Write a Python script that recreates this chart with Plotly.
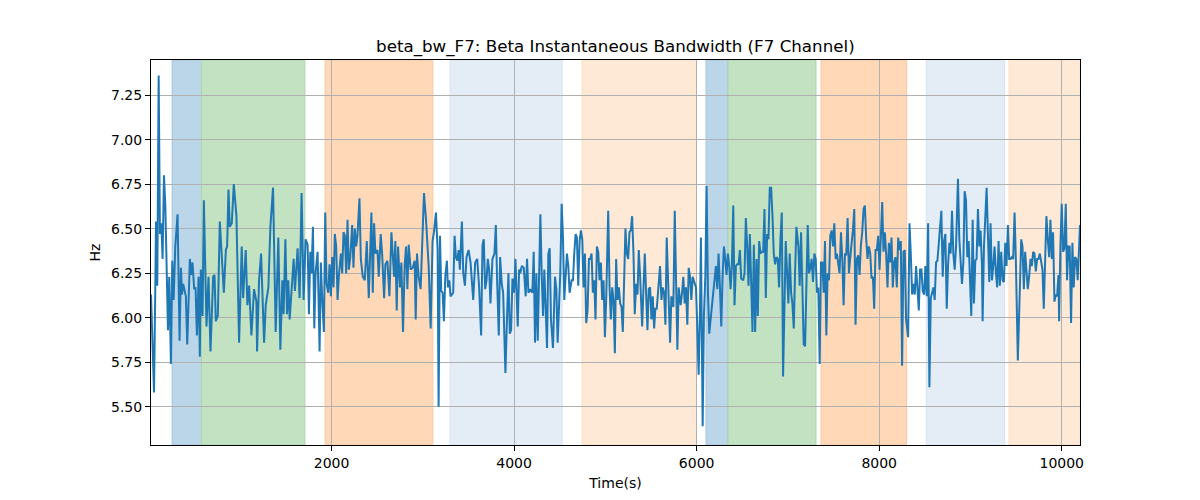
import plotly.graph_objects as go

# ---- data: instantaneous beta bandwidth, F7 channel ----
t1 = [22, 55, 69, 77, 91, 106, 120, 135, 149, 164,
      179, 193, 208, 222, 240, 255, 270, 288, 313, 335,
      350, 361, 375, 404, 419, 448, 463, 477, 495, 510,
      525, 543, 557, 568, 587, 601, 616, 630, 652, 674,
      703, 718, 732, 754, 776, 798, 820, 842, 856, 871,
      885, 907, 929, 958, 987, 1016, 1031, 1060, 1078, 1097,
      1122, 1151, 1177, 1184, 1206, 1228, 1242, 1261, 1279, 1308,
      1330, 1359, 1388, 1417, 1439, 1461, 1475, 1494, 1512, 1526,
      1541, 1563, 1585, 1599, 1614, 1628, 1650, 1672, 1694, 1716,
      1738, 1752]
v1 = [6.13, 5.58, 6.17, 6.54, 6.18, 7.36, 6.47, 6.53, 6.33, 6.80,
      6.63, 6.33, 5.93, 6.23, 5.74, 6.32, 6.10, 6.40, 6.58, 5.87,
      6.28, 6.13, 6.19, 6.12, 5.85, 6.33, 6.24, 6.31, 6.16, 6.17,
      5.90, 6.23, 5.78, 6.27, 6.01, 6.66, 6.25, 5.95, 6.23, 5.81,
      6.23, 6.24, 5.98, 6.01, 6.54, 6.36, 6.14, 6.38, 6.40, 6.72,
      6.51, 6.53, 6.75, 6.57, 5.86, 6.40, 6.11, 6.38, 6.07, 6.18,
      5.90, 6.16, 6.09, 5.81, 6.21, 6.36, 6.16, 5.86, 6.07, 6.17,
      6.51, 6.73, 5.92, 6.45, 5.82, 6.21, 6.02, 6.44, 6.02, 6.21,
      5.99, 6.19, 6.33, 6.15, 6.25, 6.39, 6.11, 6.70, 6.10, 6.44,
      6.41, 6.02]

t2 = [1767, 1781, 1796, 1811, 1825, 1847, 1869, 1883, 1898, 1916,
      1931, 1945, 1964, 1978, 1993, 2007, 2022, 2036, 2051, 2066,
      2080, 2102, 2117, 2131, 2146, 2160, 2175, 2189, 2204, 2226,
      2240, 2255, 2270, 2284, 2306, 2321, 2342, 2364, 2386, 2408,
      2437, 2452, 2466, 2481, 2503, 2517, 2539, 2554, 2576, 2590,
      2612, 2634, 2656, 2670, 2685, 2699, 2714, 2729, 2750, 2765,
      2783, 2801, 2816, 2831, 2845, 2867, 2889, 2911, 2922, 2936,
      2954, 2976, 2995, 3013, 3035, 3064, 3086, 3107, 3122, 3144,
      3162, 3173, 3188, 3202, 3217, 3231, 3246, 3264, 3275, 3290,
      3304, 3319]
v2 = [6.37, 6.25, 6.51, 5.94, 6.25, 6.37, 5.81, 6.31, 6.10, 5.92,
      6.59, 6.19, 6.14, 6.30, 6.12, 6.34, 6.17, 6.47, 6.40, 6.10,
      6.23, 6.36, 6.25, 6.48, 6.46, 6.25, 6.55, 6.27, 6.33, 6.52,
      6.28, 6.50, 6.40, 6.46, 6.67, 6.33, 6.23, 6.21, 6.43, 6.11,
      6.59, 6.14, 6.53, 6.36, 6.38, 6.23, 6.47, 6.36, 6.11, 6.30,
      6.32, 6.12, 6.48, 6.33, 6.23, 6.43, 6.04, 6.40, 6.17, 6.31,
      5.92, 6.29, 6.40, 6.16, 6.41, 6.27, 6.28, 6.32, 5.99, 6.36,
      6.23, 6.16, 6.48, 6.70, 6.55, 6.29, 5.94, 6.43, 6.48, 6.59,
      6.38, 5.50, 6.46, 6.15, 6.14, 5.98, 6.23, 6.32, 6.17, 6.21,
      6.12, 6.13]

t3 = [3333, 3348, 3362, 3377, 3392, 3406, 3413, 3428, 3443, 3461,
      3479, 3501, 3523, 3537, 3552, 3574, 3596, 3617, 3639, 3654,
      3668, 3683, 3698, 3712, 3727, 3741, 3763, 3785, 3800, 3814,
      3832, 3847, 3865, 3880, 3905, 3923, 3938, 3953, 3967, 3982,
      4000, 4015, 4040, 4055, 4069, 4084, 4106, 4127, 4142, 4157,
      4178, 4200, 4215, 4229, 4244, 4259, 4273, 4288, 4302, 4317,
      4331, 4346, 4361, 4375, 4390, 4404, 4426, 4448, 4463, 4477,
      4492, 4506, 4521, 4535, 4550, 4565, 4579, 4594, 4608, 4630,
      4645, 4659, 4674, 4688, 4703, 4718, 4732, 4747, 4761, 4776,
      4790, 4805, 4820, 4834, 4849, 4863, 4878, 4892, 4907, 4922,
      4936, 4951, 4965, 4980]
v3 = [6.14, 6.46, 6.34, 6.32, 6.38, 6.27, 6.39, 6.54, 6.25, 6.18,
      6.34, 6.38, 6.31, 6.17, 6.10, 6.31, 6.33, 6.17, 5.90, 6.41,
      6.44, 6.16, 6.21, 6.33, 6.27, 6.08, 6.33, 6.36, 6.52, 6.21,
      5.90, 6.34, 6.19, 6.14, 5.69, 6.01, 6.25, 5.91, 5.93, 6.22,
      6.14, 6.33, 5.95, 6.27, 6.25, 6.29, 6.28, 6.12, 6.33, 6.14,
      6.16, 6.14, 6.37, 5.86, 6.25, 5.87, 6.25, 6.58, 6.25, 6.01,
      6.27, 6.02, 5.83, 6.36, 6.39, 5.99, 5.83, 6.23, 6.16, 5.86,
      6.10, 6.25, 6.64, 6.46, 6.10, 6.25, 6.36, 6.29, 6.14, 6.21,
      6.21, 6.36, 6.47, 6.45, 6.18, 6.43, 6.49, 6.44, 6.17, 6.36,
      5.97, 6.04, 6.33, 6.33, 6.36, 6.14, 6.21, 5.99, 6.40, 6.37,
      6.21, 6.31, 6.10, 6.21]

t4 = [4995, 5009, 5031, 5046, 5060, 5075, 5089, 5104, 5118, 5133,
      5148, 5162, 5177, 5191, 5206, 5220, 5235, 5250, 5264, 5279,
      5293, 5308, 5322, 5337, 5352, 5366, 5381, 5403, 5417, 5432,
      5446, 5461, 5475, 5490, 5505, 5519, 5534, 5548, 5563, 5577,
      5599, 5614, 5628, 5643, 5658, 5672, 5687, 5709, 5723, 5745,
      5760, 5774, 5789, 5803, 5825, 5840, 5854, 5869, 5883, 5898,
      5913, 5927, 5942, 5956, 5971, 5993, 6007, 6022, 6036, 6047,
      6066, 6080, 6095, 6109, 6124, 6138, 6153, 6168, 6182, 6197,
      6211, 6226, 6240, 6255, 6270, 6284, 6299, 6313, 6328, 6342,
      6357, 6372, 6386, 6401, 6415, 6430, 6444, 6459, 6474, 6488,
      6510, 6525, 6539, 6554, 6568, 6583, 6597, 6612, 6627, 6641]
v4 = [5.89, 6.10, 6.60, 6.17, 5.99, 6.17, 6.10, 5.80, 6.33, 6.10,
      6.17, 6.08, 6.06, 5.92, 6.25, 6.50, 6.36, 6.33, 6.48, 6.49,
      6.57, 6.36, 6.02, 6.19, 6.13, 6.38, 6.23, 5.95, 6.16, 6.36,
      6.14, 5.93, 6.16, 6.17, 5.99, 6.12, 5.94, 6.05, 6.05, 6.14,
      6.29, 6.10, 6.17, 6.14, 5.96, 6.45, 6.16, 5.86, 6.12, 6.06,
      6.60, 6.10, 5.82, 6.17, 6.07, 6.14, 6.23, 6.08, 6.17, 5.96,
      6.28, 6.23, 6.10, 6.23, 6.20, 6.17, 5.95, 5.68, 6.02, 6.45,
      5.39, 6.02, 6.23, 6.74, 6.14, 5.91, 5.99, 6.08, 6.16, 6.25,
      6.29, 6.16, 6.36, 6.17, 5.95, 6.23, 6.40, 6.33, 6.24, 6.36,
      6.29, 6.16, 6.29, 6.63, 6.07, 6.29, 6.30, 6.30, 6.38, 6.22,
      6.21, 6.25, 6.56, 6.40, 6.18, 6.47, 6.17, 5.92, 6.41, 5.92]

t5 = [6656, 6670, 6685, 6699, 6714, 6729, 6743, 6758, 6772, 6787,
      6801, 6816, 6831, 6845, 6860, 6874, 6889, 6903, 6918, 6933,
      6947, 6962, 6976, 6991, 7005, 7020, 7035, 7049, 7064, 7078,
      7093, 7115, 7129, 7144, 7158, 7173, 7188, 7202, 7217, 7231,
      7246, 7260, 7275, 7290, 7304, 7319, 7333, 7348, 7362, 7377,
      7392, 7406, 7421, 7435, 7450, 7464, 7479, 7494, 7508, 7523,
      7537, 7552, 7566, 7581, 7596, 7610, 7625, 7639, 7654, 7668,
      7683, 7698, 7712, 7727, 7741, 7756, 7770, 7785, 7800, 7814,
      7829, 7843, 7858, 7872, 7887, 7902, 7916, 7931, 7945, 7960,
      7974, 7989, 8004, 8018, 8033, 8047, 8062, 8076, 8091, 8106,
      8120, 8135, 8149, 8164, 8178, 8193, 8208, 8222, 8237, 8251,
      8266, 8280, 8295]
v5 = [6.33, 6.01, 6.43, 6.36, 6.37, 6.37, 6.61, 6.11, 6.47, 6.44,
      6.73, 6.73, 6.57, 6.36, 6.30, 6.34, 6.33, 6.17, 6.44, 6.59,
      5.67, 6.21, 6.43, 6.25, 6.08, 6.36, 6.14, 6.08, 5.94, 6.25,
      6.51, 6.40, 6.18, 6.48, 6.14, 5.85, 5.84, 6.14, 6.52, 6.25,
      6.28, 6.33, 6.20, 6.36, 6.33, 6.14, 6.17, 5.74, 6.31, 6.31,
      6.14, 6.43, 5.90, 6.25, 6.21, 6.46, 6.49, 6.40, 6.53, 6.33,
      6.36, 6.30, 6.25, 6.48, 6.33, 6.07, 6.36, 6.35, 6.56, 6.25,
      6.36, 6.42, 6.49, 6.61, 5.96, 6.33, 6.35, 6.24, 6.41, 6.48,
      6.61, 6.63, 6.44, 6.33, 6.40, 6.36, 6.22, 6.23, 6.05, 6.38,
      6.38, 6.46, 6.27, 6.46, 6.65, 6.37, 6.48, 6.36, 6.17, 6.42,
      6.31, 6.45, 6.17, 6.31, 6.34, 6.17, 6.45, 6.38, 6.43, 5.73,
      6.37, 6.38, 5.99]

t6 = [8317, 8332, 8346, 8361, 8375, 8390, 8404, 8419, 8434, 8448,
      8463, 8477, 8492, 8506, 8521, 8536, 8550, 8565, 8579, 8594,
      8608, 8623, 8638, 8652, 8667, 8681, 8696, 8710, 8725, 8740,
      8754, 8769, 8783, 8798, 8812, 8827, 8842, 8863, 8878, 8893,
      8907, 8922, 8936, 8951, 8965, 8980, 8995, 9009, 9024, 9038,
      9053, 9067, 9082, 9097, 9111, 9126, 9133, 9148, 9177, 9191,
      9206, 9220, 9235, 9250, 9264, 9279, 9293, 9308, 9322, 9337,
      9352, 9366, 9381, 9395, 9410, 9424, 9439, 9454, 9468, 9483,
      9497, 9519, 9541, 9556, 9570, 9585, 9599, 9614, 9628, 9643,
      9658, 9672, 9687, 9701, 9716, 9730, 9745, 9760, 9774, 9789,
      9803, 9818, 9832, 9847, 9862, 9876, 9891, 9905, 9920, 9934,
      9949, 9964, 9971, 9985, 10000, 10015, 10029, 10044, 10058, 10073,
      10087, 10102, 10117, 10131, 10146, 10160, 10175, 10200]
v6 = [5.89, 6.53, 6.36, 6.13, 6.19, 6.13, 6.29, 6.17, 6.04, 6.27,
      6.27, 6.15, 6.13, 6.29, 6.12, 6.53, 5.61, 6.11, 6.14, 6.17,
      6.10, 6.31, 6.32, 6.42, 6.52, 6.60, 6.23, 6.43, 6.47, 6.05,
      6.29, 6.42, 6.36, 6.60, 6.36, 6.27, 6.40, 6.78, 6.44, 6.33,
      6.19, 6.31, 6.71, 6.66, 6.34, 6.43, 6.21, 6.01, 6.55, 6.08,
      6.32, 6.33, 6.61, 6.40, 6.49, 6.29, 5.98, 6.40, 6.73, 6.48,
      6.20, 6.53, 6.21, 6.29, 6.40, 6.25, 6.17, 6.43, 6.18, 6.37,
      6.21, 6.20, 6.42, 6.29, 6.52, 6.33, 6.33, 6.34, 6.33, 6.59,
      6.33, 5.76, 6.25, 6.44, 6.40, 6.16, 6.37, 6.25, 6.16, 6.23,
      6.33, 6.29, 6.37, 6.36, 6.26, 6.33, 6.33, 6.36, 6.31, 6.27,
      6.05, 6.29, 6.57, 6.44, 6.34, 6.55, 6.33, 6.48, 6.09, 6.13,
      6.12, 6.24, 5.98, 6.40, 6.64, 6.37, 6.39, 6.64, 6.21, 6.40,
      6.40, 5.97, 6.42, 6.17, 6.34, 6.33, 6.21, 6.52]

# shaded state intervals (start, end, color)
band_start = [254, 575, 1930, 3299, 4745, 6103, 6344, 7363, 8516, 9422]
band_end = [575, 1708, 3110, 4526, 5997, 6344, 7308, 8301, 9374, 10200]
band_color = ["rgb(188,214,233)", "rgb(194,226,194)", "rgb(255,217,183)",
              "rgb(228,236,246)", "rgb(254,233,214)",
              "rgb(188,214,233)", "rgb(194,226,194)", "rgb(255,217,183)",
              "rgb(228,236,246)", "rgb(254,233,214)"]
band_edge = ["rgb(160,196,224)", "rgb(170,214,170)", "rgb(250,200,160)",
             "rgb(216,226,242)", "rgb(250,222,196)",
             "rgb(160,196,224)", "rgb(170,214,170)", "rgb(250,200,160)",
             "rgb(216,226,242)", "rgb(250,222,196)"]

x_ticks = [2000, 4000, 6000, 8000, 10000]
y_ticks = [5.50, 5.75, 6.00, 6.25, 6.50, 6.75, 7.00, 7.25]

time_s = []
bw_hz = []
for ts, vs in [(t1, v1), (t2, v2), (t3, v3), (t4, v4), (t5, v5), (t6, v6)]:
    for a, b in zip(ts, vs):
        time_s.append(a)
        bw_hz.append(b)

FONT = "DejaVu Sans"

fig = go.Figure()
fig.add_trace(go.Scatter(x=time_s, y=bw_hz, mode="lines",
                         line=dict(color="#1f77b4", width=2),
                         showlegend=False))

shapes = []
for s, e, c, ec in zip(band_start, band_end, band_color, band_edge):
    shapes.append(dict(type="rect", xref="x", yref="paper", x0=s, x1=e,
                       y0=0, y1=1, fillcolor=c, layer="below",
                       line=dict(color=ec, width=1)))

fig.update_layout(
    width=1200, height=500,
    margin=dict(l=151, r=120, t=60, b=55),
    paper_bgcolor="white", plot_bgcolor="white",
    font=dict(family=FONT, size=14, color="black"),
    shapes=shapes,
    title=dict(text="beta_bw_F7: Beta Instantaneous Bandwidth (F7 Channel)",
               x=0.5128, xanchor="center", y=1 - 46 / 500, yanchor="middle",
               yref="container", font=dict(family=FONT, size=16.7, color="black")),
    xaxis=dict(range=[22, 10200], tickvals=x_ticks,
               ticktext=[str(v) for v in x_ticks],
               showgrid=True, gridcolor="#b0b0b0", gridwidth=1,
               showline=True, mirror=True, linecolor="black", linewidth=1,
               ticks="outside", ticklen=5, tickcolor="black", zeroline=False,
               title=dict(text="Time(s)", standoff=8,
                          font=dict(family=FONT, size=14))),
    yaxis=dict(range=[5.285, 7.447], tickvals=y_ticks,
               ticktext=["%.2f" % v for v in y_ticks],
               showgrid=True, gridcolor="#b0b0b0", gridwidth=1,
               showline=True, mirror=True, linecolor="black", linewidth=1,
               ticks="outside", ticklen=5, tickcolor="black", zeroline=False,
               title=dict(text="Hz", standoff=7,
                          font=dict(family=FONT, size=14))),
)

fig.write_html("out.html")
